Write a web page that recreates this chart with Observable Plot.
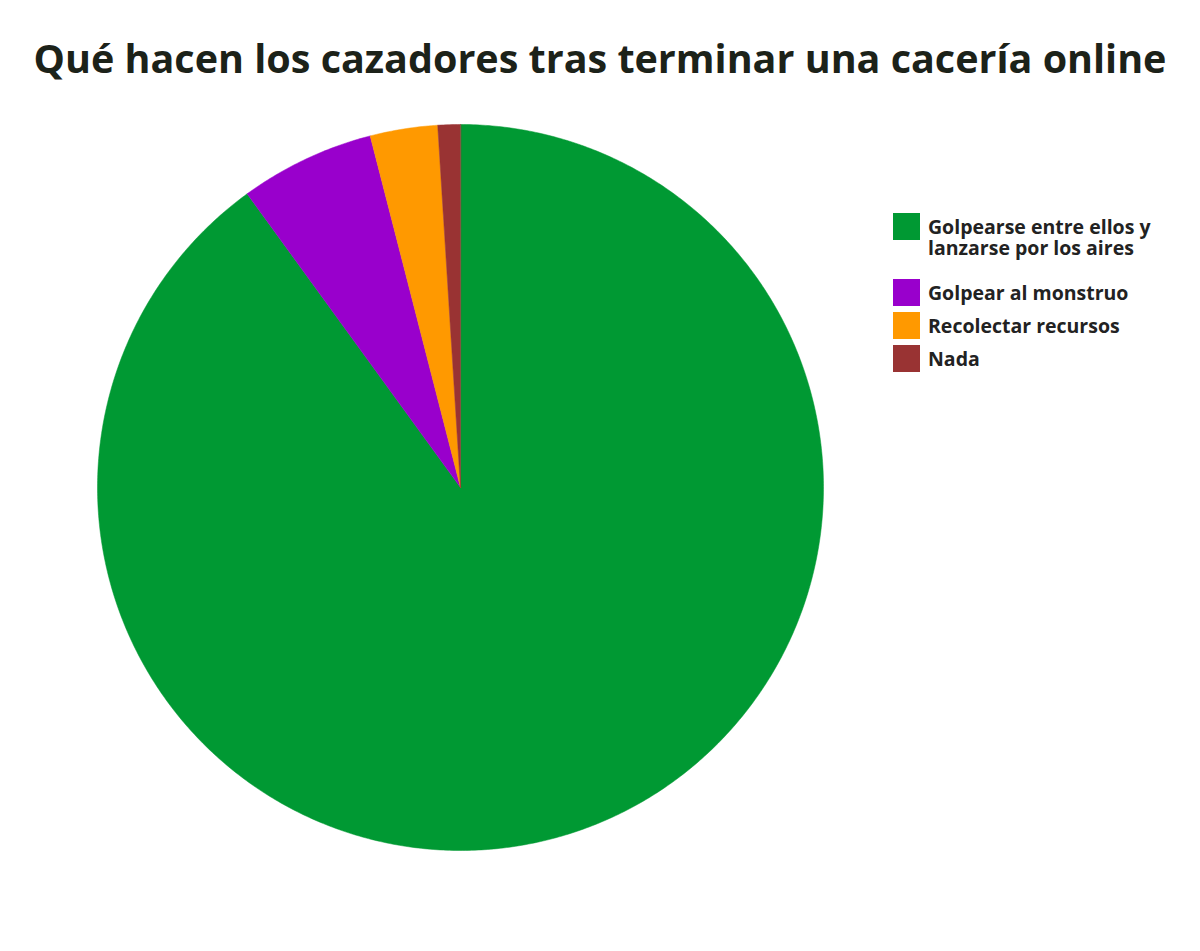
<!DOCTYPE html>
<html>
<head>
<meta charset="utf-8">
<script src="https://cdn.jsdelivr.net/npm/d3@7"></script>
<script src="https://cdn.jsdelivr.net/npm/@observablehq/plot@0.6"></script>
<style>
  html, body { margin: 0; padding: 0; background: #fff; }
  #wrap { position: relative; width: 1200px; height: 951px; overflow: hidden; font-family: "Open Sans", sans-serif; }
  #title { position: absolute; left: 0; top: 31px; width: 1200px; text-align: center; font-weight: 700; font-size: 39.5px; line-height: 54px; color: #1c2219; }
  #chart { position: absolute; left: 0; top: 105px; }
  #legend { position: absolute; left: 0; top: 0; font-weight: 700; font-size: 19.5px; color: #222; }
  .sw { position: absolute; left: 893px; width: 27px; height: 27px; }
  .lab { position: absolute; left: 928px; height: 21px; line-height: 21px; white-space: nowrap; }
</style>
</head>
<body>
<div id="wrap">
  <div id="title">Qué hacen los cazadores tras terminar una cacería online</div>
  <div id="chart"></div>
  <div id="legend"></div>
</div>
<script>
const categories = ["Golpearse entre ellos y lanzarse por los aires", "Golpear al monstruo", "Recolectar recursos", "Nada"];
const legendLines = [["Golpearse entre ellos y", "lanzarse por los aires"], ["Golpear al monstruo"], ["Recolectar recursos"], ["Nada"]];
const values = [90, 6, 3, 1];
const colors = ["#009933", "#9900cc", "#ff9900", "#993333"];

const data = categories.map((c, i) => ({category: c, value: values[i]}));
const arcs = d3.pie().sort(null).value(d => d.value)(data);

function slicePolygon(a) {
  const pts = [[0, 0]];
  const n = Math.max(2, Math.ceil((a.endAngle - a.startAngle) / (Math.PI / 360)));
  for (let k = 0; k <= n; k++) {
    const t = a.startAngle + (a.endAngle - a.startAngle) * k / n;
    pts.push([Math.sin(t), -Math.cos(t)]);
  }
  pts.push([0, 0]);
  return {type: "Feature", properties: {category: a.data.category}, geometry: {type: "Polygon", coordinates: [pts]}};
}
const features = arcs.map(slicePolygon);

const circle = {type: "Feature", geometry: {type: "Polygon", coordinates: [d3.range(0, 361, 2).map(d => [Math.sin(d * Math.PI / 180), -Math.cos(d * Math.PI / 180)])]}};

const plot = Plot.plot({
  width: 1200,
  height: 846,
  marginLeft: 97,
  marginRight: 377,
  marginTop: 19,
  marginBottom: 101,
  projection: {type: "identity", domain: circle},
  color: {domain: categories, range: colors},
  marks: [
    Plot.geo(features, {fill: d => d.properties.category, stroke: d => d.properties.category, strokeWidth: 0.5})
  ]
});
document.getElementById("chart").appendChild(plot);

const legend = document.getElementById("legend");
const swatchTops = [213, 279, 312, 345];
categories.forEach((c, i) => {
  const sw = document.createElement("div");
  sw.className = "sw";
  sw.style.top = swatchTops[i] + "px";
  sw.style.background = colors[i];
  legend.appendChild(sw);
  legendLines[i].forEach((line, j) => {
    const lab = document.createElement("div");
    lab.className = "lab";
    lab.style.top = (swatchTops[i] + 3 + j * 21) + "px";
    lab.textContent = line;
    legend.appendChild(lab);
  });
});
</script>
</body>
</html>
